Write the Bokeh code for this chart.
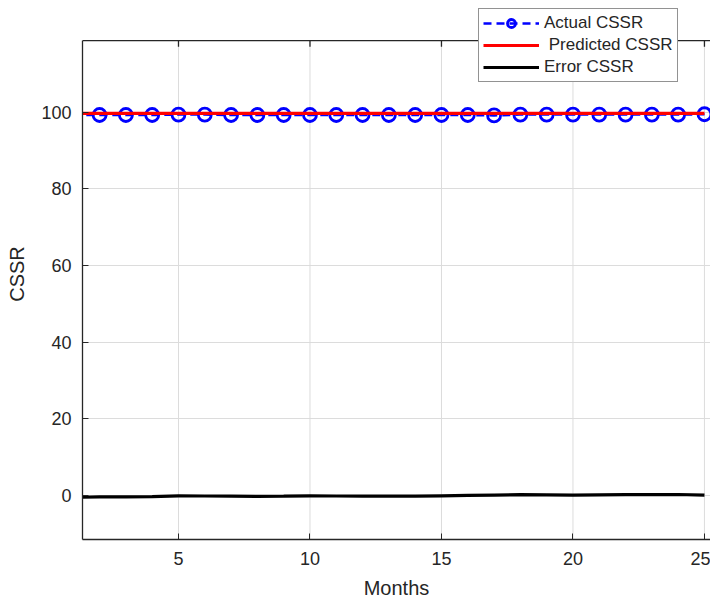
import math
from bokeh.plotting import figure
from bokeh.models import FixedTicker, Legend, LegendItem, Range1d, Span
from bokeh.embed import file_html
from bokeh.resources import INLINE

months = [1, 2, 3, 4, 5, 6, 7, 8, 9, 10, 11, 12, 13, 14, 15, 16, 17, 18, 19, 20, 21, 22, 23, 24, 25]
actual_cssr = [99.3, 99.3, 99.3, 99.3, 99.4, 99.4, 99.3, 99.3, 99.3, 99.3, 99.3, 99.3, 99.3,
               99.3, 99.3, 99.3, 99.2, 99.4, 99.4, 99.4, 99.4, 99.4, 99.4, 99.4, 99.5]
predicted_cssr = [99.7, 99.7, 99.7, 99.7, 99.7, 99.7, 99.7, 99.7, 99.7, 99.7, 99.7, 99.7, 99.7,
                  99.7, 99.7, 99.7, 99.7, 99.7, 99.7, 99.7, 99.7, 99.7, 99.7, 99.7, 99.7]
error_cssr = [-0.5, -0.4, -0.35, -0.3, -0.1, -0.15, -0.2, -0.25, -0.2, -0.1, -0.15, -0.2, -0.15,
              -0.2, -0.1, 0.0, 0.1, 0.2, 0.15, 0.1, 0.15, 0.2, 0.2, 0.25, 0.1]
x_ticks = [5, 10, 15, 20, 25]
y_ticks = [0, 20, 40, 60, 80, 100]

X_MIN, X_MAX = 1.35, 25.23
Y_MIN, Y_TOP = -11.5, 118.7   # axes box limits
Y_VIEW = 127.1                # extra headroom so the legend can sit over the box top

TXT = "#262626"
FONT = "Liberation Sans"

p = figure(width=710, height=601, output_backend="svg", toolbar_location=None,
           x_range=Range1d(X_MIN, X_MAX), y_range=Range1d(Y_MIN, Y_VIEW),
           min_border_left=82, min_border_right=0, min_border_top=8, min_border_bottom=62,
           x_axis_label="Months", y_axis_label="CSSR")
p.outline_line_color = None
p.background_fill_color = "white"
p.border_fill_color = "white"

p.xaxis.ticker = FixedTicker(ticks=x_ticks)
p.yaxis.ticker = FixedTicker(ticks=y_ticks)
p.yaxis.bounds = (Y_MIN, Y_TOP)
for ax in (p.xaxis[0], p.yaxis[0]):
    ax.axis_line_color = TXT
    ax.axis_line_width = 1.3
    ax.major_tick_line_color = TXT
    ax.major_tick_in = 6
    ax.major_tick_out = 0
    ax.minor_tick_line_color = None
    ax.major_label_text_font = FONT
    ax.major_label_text_font_size = "18px"
    ax.major_label_text_color = TXT
    ax.axis_label_text_font = FONT
    ax.axis_label_text_font_size = "20px"
    ax.axis_label_text_font_style = "normal"
    ax.axis_label_text_color = TXT
p.yaxis.major_label_standoff = 11
p.yaxis.axis_label_standoff = 10
p.xaxis.major_label_standoff = 12
p.xaxis.axis_label_standoff = 9

# grid: horizontal from the axis, vertical drawn only inside the axes box
p.xgrid.visible = False
p.ygrid.ticker = FixedTicker(ticks=y_ticks)
p.ygrid.grid_line_color = "#dcdcdc"
p.ygrid.grid_line_width = 1
p.segment(x0=x_ticks, y0=[Y_MIN] * len(x_ticks), x1=x_ticks, y1=[Y_TOP] * len(x_ticks),
          line_color="#dcdcdc", line_width=1)

# top edge of the axes box with inward ticks
p.add_layout(Span(location=Y_TOP, dimension="width", line_color=TXT, line_width=1.3))
p.ray(x=x_ticks, y=[Y_TOP] * len(x_ticks), length=6, length_units="screen",
      angle=-math.pi / 2, line_color=TXT, line_width=1.3)

l_act = p.line(months, actual_cssr, line_color="#0000ff", line_width=2.5, line_dash="8 5")
m_act = p.scatter(months, actual_cssr, marker="circle", size=13, fill_color=None,
                  line_color="#0000ff", line_width=2.8)
l_pred = p.line(months, predicted_cssr, line_color="#ff0000", line_width=3.2)
l_err = p.line(months, error_cssr, line_color="black", line_width=3.2)

legend = Legend(items=[
    LegendItem(label="Actual CSSR", renderers=[l_act, m_act]),
    LegendItem(label=" Predicted CSSR", renderers=[l_pred]),
    LegendItem(label="Error CSSR", renderers=[l_err]),
], location=(396, 457))
legend.label_text_font = FONT
legend.label_text_font_size = "17px"
legend.label_text_color = TXT
legend.glyph_width = 56
legend.glyph_height = 20
legend.label_height = 20
legend.label_standoff = 5
legend.spacing = 2
legend.padding = 4
legend.margin = 0
legend.border_line_color = TXT
legend.border_line_width = 1
legend.background_fill_color = "white"
legend.background_fill_alpha = 1
p.add_layout(legend, "center")

open("out.html", "w").write(file_html(p, INLINE))
